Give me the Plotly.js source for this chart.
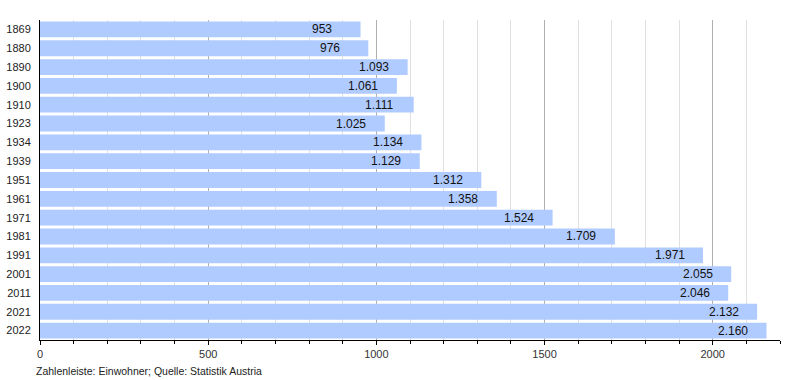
<!DOCTYPE html>
<html>
<head>
<meta charset="utf-8">
<script src="https://cdn.plot.ly/plotly-3.0.1.min.js"></script>
<style>html,body{margin:0;padding:0;background:#fff}#chart{width:800px;height:380px}</style>
</head>
<body>
<div id="chart"></div>
<script>
const years = ["1869","1880","1890","1900","1910","1923","1934","1939","1951","1961","1971","1981","1991","2001","2011","2021","2022"];
const population = [953,976,1093,1061,1111,1025,1134,1129,1312,1358,1524,1709,1971,2055,2046,2132,2160];
const xTicks = [0,500,1000,1500,2000];
const caption = "Zahlenleiste: Einwohner; Quelle: Statistik Austria";

function fmt(v){ return v.toString().replace(/\B(?=(\d{3})+(?!\d))/g, "."); }

const trace = {
  type: "bar", orientation: "h",
  y: years, x: population,
  marker: {color: "rgb(176,203,255)", line: {width: 0}},
  hoverinfo: "none"
};

const annotations = years.map((y,i)=>({
  x: population[i]-150, y: i, xref: "x", yref: "y",
  text: fmt(population[i]), showarrow: false, xanchor: "left", yanchor: "middle",
  font: {family: "Liberation Sans, Arial, sans-serif", size: 12, color: "#111"}
}));
annotations.push({
  xref: "paper", yref: "paper", x: -0.008, y: -0.072, xanchor: "left", yanchor: "top",
  text: caption, showarrow: false,
  font: {family: "Liberation Sans, Arial, sans-serif", size: 10.5, color: "#222"}
});

const layout = {
  width: 800, height: 380,
  margin: {l: 40, r: 20, t: 20, b: 40},
  paper_bgcolor: "#fff", plot_bgcolor: "#fff",
  bargap: 0.16,
  showlegend: false,
  font: {family: "Liberation Sans, Arial, sans-serif", size: 11, color: "#222"},
  xaxis: {
    range: [0, 2200], tickvals: xTicks, ticktext: xTicks.map(String),
    showgrid: true, gridcolor: "#b0b0b0", gridwidth: 1,
    zeroline: false, showline: true, linecolor: "#000", linewidth: 1,
    ticks: "outside", ticklen: 4, tickcolor: "#000",
    minor: {dtick: 100, tick0: 0, showgrid: true, gridcolor: "#e0e0e0", gridwidth: 1, ticks: "outside", ticklen: 3, tickcolor: "#000"},
    tickfont: {size: 11, color: "#333"}, fixedrange: true
  },
  yaxis: {
    type: "category", categoryorder: "array", categoryarray: years,
    range: [years.length - 0.5, -0.5],
    showgrid: false, zeroline: false, showline: true, linecolor: "#000", linewidth: 1,
    ticks: "", ticklabelstandoff: 6,
    tickfont: {size: 11, color: "#222"}, fixedrange: true
  },
  annotations: annotations
};

Plotly.newPlot("chart", [trace], layout, {displayModeBar: false, staticPlot: true});
</script>
</body>
</html>
